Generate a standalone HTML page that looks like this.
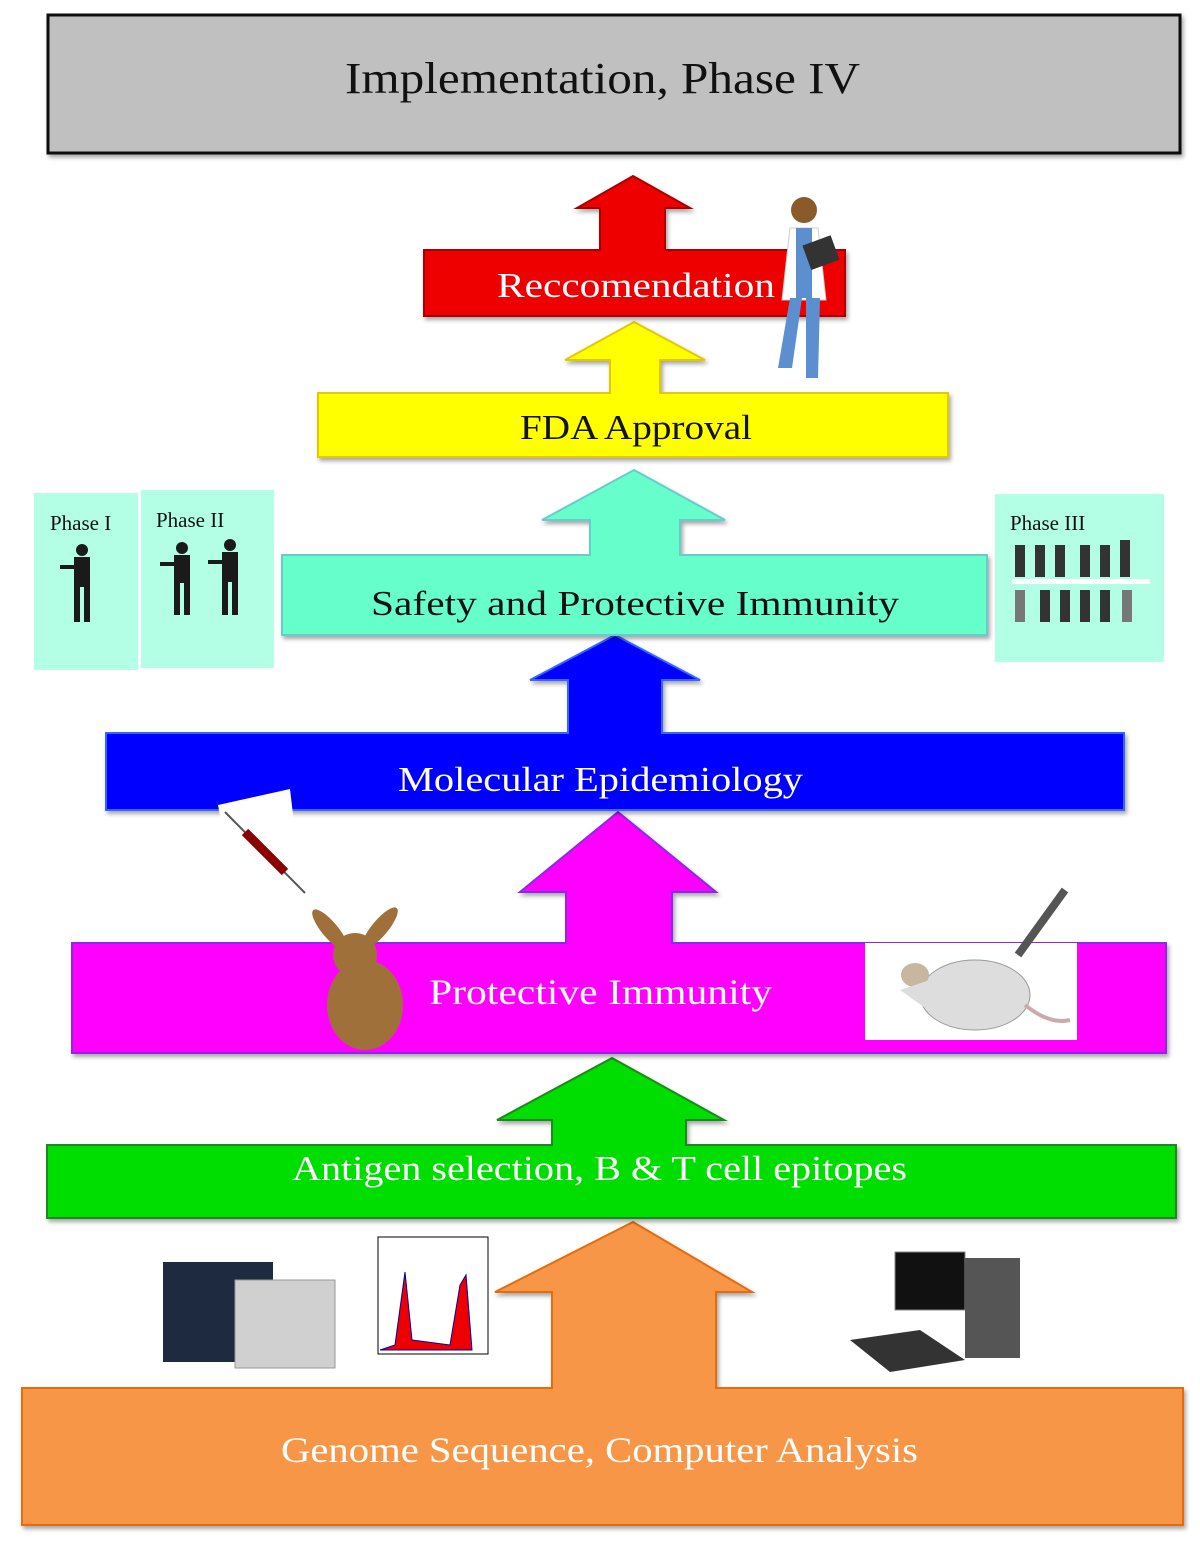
<!DOCTYPE html>
<html><head><meta charset="utf-8"><style>
html,body{margin:0;padding:0;background:#fff;}
svg{display:block;}
text{font-family:"Liberation Serif",serif;}
</style></head><body>
<svg width="1200" height="1553" viewBox="0 0 1200 1553" xmlns="http://www.w3.org/2000/svg">
<defs>
<filter id="sh" x="-5%" y="-5%" width="110%" height="120%"><feDropShadow dx="2" dy="3" stdDeviation="2" flood-color="#000" flood-opacity="0.35"/></filter>
</defs>
<rect x="48" y="15" width="1132" height="138" fill="#c0c0c0" stroke="#111" stroke-width="3" filter="url(#sh)"/>
<text x="345" y="93" font-size="44" textLength="515" lengthAdjust="spacingAndGlyphs" fill="#111">Implementation, Phase IV</text>

<polygon points="22,1388 552,1388 552,1292 495,1292 633,1222 752,1292 716,1292 716,1388 1183,1388 1183,1525 22,1525" fill="#f79646" stroke="#e36c0a" stroke-width="2" filter="url(#sh)"/>
<text x="281" y="1462" font-size="36" textLength="637" lengthAdjust="spacingAndGlyphs" fill="#fff">Genome Sequence, Computer Analysis</text>

<polygon points="47,1145 552,1145 552,1120 497,1120 612,1058 724,1120 686,1120 686,1145 1176,1145 1176,1218 47,1218" fill="#00dd00" stroke="#1a8a1a" stroke-width="2" filter="url(#sh)"/>
<text x="292" y="1180" font-size="35" textLength="615" lengthAdjust="spacingAndGlyphs" fill="#fff">Antigen selection, B &amp; T cell epitopes</text>

<polygon points="72,943 566,943 566,892 520,892 618,812 716,892 672,892 672,943 1166,943 1166,1053 72,1053" fill="#ff00ff" stroke="#8a2be2" stroke-width="2" filter="url(#sh)"/>
<text x="429" y="1004" font-size="36" textLength="343" lengthAdjust="spacingAndGlyphs" fill="#fff">Protective Immunity</text>

<polygon points="106,733 568,733 568,680 530,680 615,635 700,680 662,680 662,733 1124,733 1124,810 106,810" fill="#0000ff" stroke="#3366ff" stroke-width="2" filter="url(#sh)"/>
<text x="398" y="791" font-size="35" textLength="405" lengthAdjust="spacingAndGlyphs" fill="#fff">Molecular Epidemiology</text>

<polygon points="282,555 590,555 590,520 542,520 634,470 725,520 680,520 680,555 987,555 987,635 282,635" fill="#66ffcc" stroke="#66cccc" stroke-width="2" filter="url(#sh)"/>
<text x="371" y="615" font-size="35" textLength="528" lengthAdjust="spacingAndGlyphs" fill="#111">Safety and Protective Immunity</text>

<polygon points="318,393 610,393 610,360 565,360 634,322 705,360 660,360 660,393 948,393 948,457 318,457" fill="#ffff00" stroke="#e6c800" stroke-width="2" filter="url(#sh)"/>
<text x="520" y="439" font-size="35" textLength="232" lengthAdjust="spacingAndGlyphs" fill="#111">FDA Approval</text>

<polygon points="424,250 600,250 600,208 577,208 633,176 690,208 665,208 665,250 845,250 845,316 424,316" fill="#ee0000" stroke="#aa0000" stroke-width="2" filter="url(#sh)"/>
<text x="497" y="297" font-size="35" textLength="278" lengthAdjust="spacingAndGlyphs" fill="#fff">Reccomendation</text>

<g>
<circle cx="804" cy="210" r="13" fill="#8b5a2b"/>
<path d="M790 228 L818 228 L826 300 L782 300 Z" fill="#fff" stroke="#ccc"/>
<rect x="796" y="228" width="16" height="70" fill="#5b8fd0"/>
<path d="M790 298 L802 298 L792 368 L778 368 Z" fill="#5b8fd0"/>
<path d="M806 298 L820 298 L818 378 L806 378 Z" fill="#5b8fd0"/>
<rect x="806" y="240" width="30" height="26" fill="#333" transform="rotate(-20 820 253)"/>
</g>

<rect x="34" y="493" width="104" height="177" fill="#b3ffe6"/>
<rect x="141" y="490" width="133" height="178" fill="#b3ffe6"/>
<rect x="995" y="494" width="169" height="168" fill="#b3ffe6"/>
<text x="50" y="530" font-size="21" fill="#111">Phase I</text>
<text x="156" y="527" font-size="21" fill="#111">Phase II</text>
<text x="1010" y="530" font-size="21" fill="#111">Phase III</text>
<g fill="#1a1a1a">
<circle cx="82" cy="550" r="6"/><rect x="74" y="557" width="16" height="30"/><rect x="74" y="587" width="6" height="35"/><rect x="84" y="587" width="6" height="35"/><rect x="60" y="565" width="14" height="4"/>
<circle cx="182" cy="548" r="6"/><rect x="174" y="555" width="16" height="28"/><rect x="174" y="583" width="6" height="32"/><rect x="184" y="583" width="6" height="32"/><rect x="160" y="562" width="14" height="4"/>
<circle cx="230" cy="545" r="6"/><rect x="222" y="552" width="16" height="30"/><rect x="222" y="582" width="6" height="33"/><rect x="232" y="582" width="6" height="33"/><rect x="208" y="560" width="14" height="4"/>
</g>
<g fill="#333">
<rect x="1015" y="545" width="10" height="32"/><rect x="1035" y="545" width="10" height="32"/><rect x="1055" y="545" width="10" height="32"/><rect x="1080" y="545" width="10" height="32"/><rect x="1100" y="545" width="10" height="32"/><rect x="1120" y="540" width="10" height="37"/>
<rect x="1015" y="590" width="10" height="32" fill="#777"/><rect x="1040" y="590" width="10" height="32"/><rect x="1060" y="590" width="10" height="32"/><rect x="1080" y="590" width="10" height="32"/><rect x="1100" y="590" width="10" height="32"/><rect x="1122" y="590" width="10" height="32" fill="#777"/>
</g>
<rect x="1012" y="579" width="138" height="5" fill="#fff"/>

<polygon points="218,805 290,789 296,840 226,848" fill="#fff"/>
<line x1="225" y1="812" x2="305" y2="893" stroke="#555" stroke-width="2"/>
<line x1="245" y1="832" x2="285" y2="872" stroke="#8b0000" stroke-width="9"/>

<g fill="#a0703a">
<ellipse cx="365" cy="1005" rx="38" ry="45"/>
<circle cx="355" cy="955" r="22"/>
<ellipse cx="330" cy="930" rx="8" ry="26" transform="rotate(-40 330 930)"/>
<ellipse cx="380" cy="928" rx="8" ry="26" transform="rotate(40 380 928)"/>
</g>

<rect x="865" y="943" width="212" height="97" fill="#fff"/>
<ellipse cx="975" cy="995" rx="55" ry="35" fill="#ddd" stroke="#999"/>
<ellipse cx="915" cy="975" rx="14" ry="12" fill="#c9b6a0"/>
<polygon points="900,990 930,980 935,1015" fill="#ddd"/>
<path d="M1025 1005 Q1050 1025 1070 1020" stroke="#caa" stroke-width="4" fill="none"/>
<line x1="1018" y1="955" x2="1065" y2="890" stroke="#555" stroke-width="8"/>

<rect x="163" y="1262" width="110" height="100" fill="#1e2a40"/>
<rect x="235" y="1280" width="100" height="88" fill="#d0d0d0" stroke="#999"/>
<rect x="378" y="1237" width="110" height="117" fill="#fff" stroke="#000"/>
<path d="M380 1350 L395 1345 L405 1272 L412 1340 L450 1345 L460 1285 L466 1275 L472 1350 Z" fill="#e00" stroke="#00a" stroke-width="1"/>
<rect x="895" y="1252" width="70" height="58" fill="#111" stroke="#888"/>
<rect x="965" y="1258" width="55" height="100" fill="#555"/>
<polygon points="850,1340 920,1330 965,1360 890,1372" fill="#333"/>
</svg>
</body></html>
